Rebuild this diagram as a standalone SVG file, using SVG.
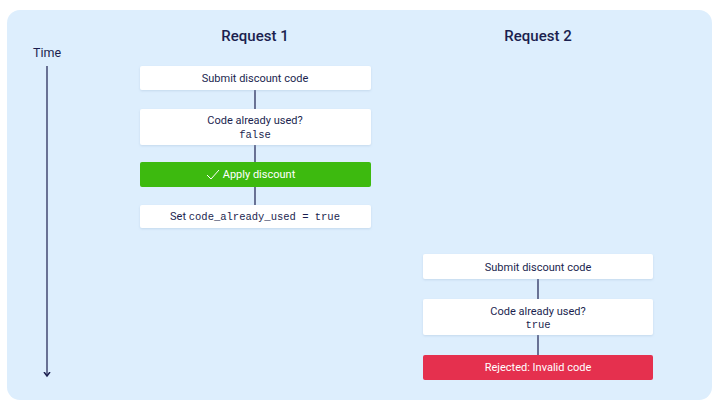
<svg xmlns="http://www.w3.org/2000/svg" width="720" height="411" viewBox="0 0 720 411">
<style>
.box{fill:#ffffff;filter:url(#sh)}
.t{font-family:"Roboto","Liberation Sans",sans-serif;font-size:11px;fill:#1b1f4f;text-anchor:middle}
.m{font-family:"Liberation Mono",monospace;font-size:10.5px;fill:#1b1f4f}
.h{font-family:"Roboto","Liberation Sans",sans-serif;font-size:15px;font-weight:500;fill:#1b1f4f;text-anchor:middle}
.w{fill:#ffffff}
.c{stroke:#1b1f4f;stroke-width:1.2;fill:none}
</style>
<defs>
<filter id="sh" x="-5%" y="-30%" width="110%" height="160%">
<feDropShadow dx="0" dy="1" stdDeviation="1" flood-color="#8aa8c8" flood-opacity="0.3"/>
</filter>
<marker id="ar" markerWidth="8" markerHeight="8" refX="4" refY="4" orient="auto" markerUnits="userSpaceOnUse">
<path d="M0,1 L4,4 L0,7" fill="none" stroke="#1b1f4f" stroke-width="1.5"/>
</marker>
</defs>
<rect width="720" height="411" fill="#ffffff"/>
<rect x="7" y="10" width="705" height="390" rx="13" fill="#ddeefd"/>
<text class="h" x="255" y="41">Request 1</text>
<text class="h" x="538" y="41">Request 2</text>
<text x="47" y="57" font-family="Roboto, 'Liberation Sans', sans-serif" font-size="12.5" fill="#1b1f4f" text-anchor="middle">Time</text>
<g id="connectors">
<line class="c" x1="47" y1="66" x2="47" y2="376" stroke-width="1.6" marker-end="url(#ar)"/>
<line class="c" x1="255" y1="90" x2="255" y2="109"/>
<line class="c" x1="255" y1="145" x2="255" y2="162"/>
<line class="c" x1="255" y1="187" x2="255" y2="205"/>
<line class="c" x1="538" y1="279" x2="538" y2="299"/>
<line class="c" x1="538" y1="335" x2="538" y2="355"/>
</g>
<g id="r1-submit">
<rect class="box" x="140" y="66" width="231" height="24" rx="2"/>
<text class="t" x="255" y="82">Submit discount code</text>
</g>
<g id="r1-check">
<rect class="box" x="140" y="109" width="231" height="36" rx="2"/>
<text class="t" x="255" y="124">Code already used?</text>
<text class="m" x="255" y="138" text-anchor="middle">false</text>
</g>
<g id="r1-apply">
<rect x="140" y="162" width="231" height="25" rx="2" fill="#3dba0f"/>
<path d="M207,175 L211,179 L219,170" fill="none" stroke="#ffffff" stroke-width="1"/>
<text class="t w" x="259" y="178" style="fill:#ffffff">Apply discount</text>
</g>
<g id="r1-set">
<rect class="box" x="140" y="205" width="231" height="23" rx="2"/>
<text x="255" y="220" text-anchor="middle"><tspan font-family="Roboto, 'Liberation Sans', sans-serif" font-size="11" fill="#1b1f4f">Set </tspan><tspan class="m">code_already_used = true</tspan></text>
</g>
<g id="r2-submit">
<rect class="box" x="423" y="254" width="230" height="25" rx="2"/>
<text class="t" x="538" y="271">Submit discount code</text>
</g>
<g id="r2-check">
<rect class="box" x="423" y="299" width="230" height="36" rx="2"/>
<text class="t" x="538" y="315">Code already used?</text>
<text class="m" x="538" y="328" text-anchor="middle">true</text>
</g>
<g id="r2-reject">
<rect x="423" y="355" width="230" height="25" rx="2" fill="#e5304e"/>
<text class="t" x="538" y="371" style="fill:#ffffff">Rejected: Invalid code</text>
</g>
</svg>
